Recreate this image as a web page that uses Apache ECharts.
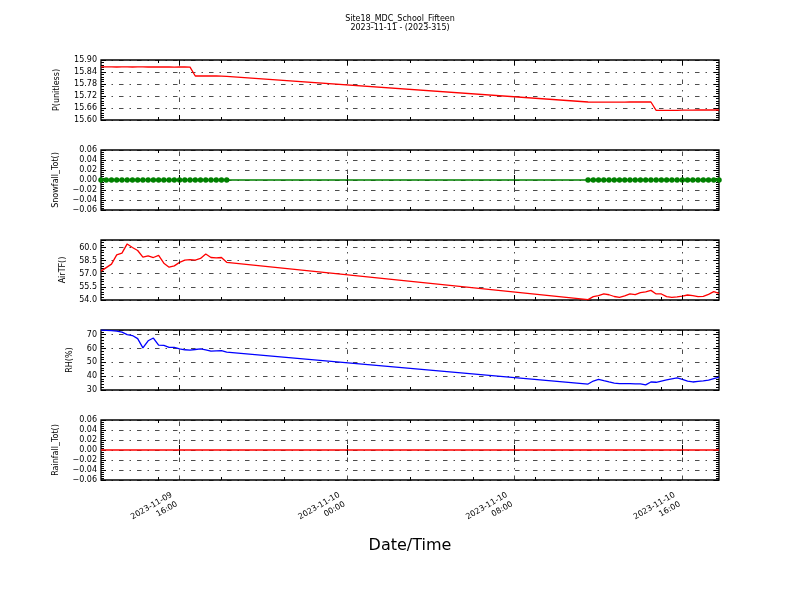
<!DOCTYPE html>
<html>
<head>
<meta charset="utf-8">
<script src="https://cdn.jsdelivr.net/npm/echarts@6/dist/echarts.min.js"></script>
<style>html,body{margin:0;padding:0;background:#fff}#c{width:800px;height:600px}</style>
</head>
<body>
<div id="c"></div>
<script>
// ---------------- data ----------------
const times1 = ['2023-11-09 12:15','2023-11-09 12:30','2023-11-09 12:45','2023-11-09 13:00','2023-11-09 13:15','2023-11-09 13:30','2023-11-09 13:45','2023-11-09 14:00','2023-11-09 14:15','2023-11-09 14:30','2023-11-09 14:45','2023-11-09 15:00','2023-11-09 15:15','2023-11-09 15:30','2023-11-09 15:45','2023-11-09 16:00','2023-11-09 16:15','2023-11-09 16:30','2023-11-09 16:45','2023-11-09 17:00','2023-11-09 17:15','2023-11-09 17:30','2023-11-09 17:45','2023-11-09 18:00','2023-11-09 18:15'];
const times2 = ['2023-11-10 11:30','2023-11-10 11:45','2023-11-10 12:00','2023-11-10 12:15','2023-11-10 12:30','2023-11-10 12:45','2023-11-10 13:00','2023-11-10 13:15','2023-11-10 13:30','2023-11-10 13:45','2023-11-10 14:00','2023-11-10 14:15','2023-11-10 14:30','2023-11-10 14:45','2023-11-10 15:00','2023-11-10 15:15','2023-11-10 15:30','2023-11-10 15:45','2023-11-10 16:00','2023-11-10 16:15','2023-11-10 16:30','2023-11-10 16:45','2023-11-10 17:00','2023-11-10 17:15','2023-11-10 17:30','2023-11-10 17:45'];

const pressure1 = [15.866,15.866,15.866,15.865,15.866,15.866,15.865,15.866,15.866,15.865,15.865,15.866,15.865,15.865,15.864,15.865,15.865,15.864,15.820,15.820,15.820,15.820,15.820,15.819,15.818];
const pressure2 = [15.690,15.689,15.689,15.689,15.689,15.689,15.689,15.689,15.690,15.690,15.690,15.690,15.690,15.648,15.648,15.648,15.648,15.648,15.649,15.649,15.649,15.650,15.650,15.650,15.650,15.650];

const snowfall1 = [0,0,0,0,0,0,0,0,0,0,0,0,0,0,0,0,0,0,0,0,0,0,0,0,0];
const snowfall2 = [0,0,0,0,0,0,0,0,0,0,0,0,0,0,0,0,0,0,0,0,0,0,0,0,0,0];

const airTF1 = [57.3,57.7,58.1,59.15,59.35,60.4,60.0,59.65,58.9,59.05,58.85,59.1,58.2,57.75,57.9,58.3,58.55,58.6,58.55,58.75,59.25,58.85,58.8,58.85,58.3];
const airTF2 = [54.05,54.38,54.5,54.69,54.6,54.4,54.31,54.46,54.69,54.61,54.84,54.92,55.1,54.69,54.69,54.38,54.31,54.35,54.45,54.57,54.5,54.38,54.42,54.65,54.95,54.77];

const rh1 = [73.3,73.2,73.0,72.6,71.9,70.1,69.4,67.2,60.5,65.6,67.6,62.5,62.3,60.8,60.8,59.7,59.1,58.9,59.3,59.7,59.0,58.1,58.3,58.4,57.4];
const rh2 = [34.3,36.5,37.7,36.7,35.8,35.0,34.6,34.6,34.6,34.5,34.4,33.7,35.8,35.6,36.5,37.3,38.1,38.7,37.6,36.4,35.8,36.3,36.6,37.1,38.3,39.4];

const rainfall1 = [0,0,0,0,0,0,0,0,0,0,0,0,0,0,0,0,0,0,0,0,0,0,0,0,0];
const rainfall2 = [0,0,0,0,0,0,0,0,0,0,0,0,0,0,0,0,0,0,0,0,0,0,0,0,0,0];

const xMin = '2023-11-09 12:15';
const xMax = '2023-11-10 17:45';
const xMajorTicks = ['2023-11-09 16:00','2023-11-10 00:00','2023-11-10 08:00','2023-11-10 16:00'];
const xMajorLabels = ['2023-11-09\n16:00','2023-11-10\n00:00','2023-11-10\n08:00','2023-11-10\n16:00'];
const xMinorTicks = ['2023-11-09 15:00','2023-11-09 18:00','2023-11-09 21:00','2023-11-10 03:00','2023-11-10 06:00','2023-11-10 09:00','2023-11-10 12:00','2023-11-10 15:00'];

const panelNames = ['P(unitless)','Snowfall_Tot()','AirTF()','RH(%)','Rainfall_Tot()'];
const yMins = [15.60, -0.06, 54.0, 30, -0.06];
const yMaxs = [15.90, 0.06, 60.85, 73.4, 0.06];
const yIntervals = [0.06, 0.02, 1.5, 10, 0.02];
const yDecimals = [2, 2, 1, 0, 2];
const title = 'Site18_MDC_School_Fifteen\n2023-11-11 - (2023-315)';
const xTitle = 'Date/Time';

// ---------------- layout / style ----------------
const FONT = 'DejaVu Sans';
const tops = [60, 150, 240, 330, 420];
const nameGaps = [40, 41, 34, 27, 41];
const dashDot = [4.5, 6, 1.5, 6];
const gridLine = {color: '#000', width: 0.7, type: dashDot};

const ms = s => echarts.time.parse(s).getTime();
const times = times1.concat(times2).map(ms);
function pairs(a, b) { const v = a.concat(b); return times.map((t, i) => [t, v[i]]); }

const majorMs = xMajorTicks.map(ms);
const minorMs = xMinorTicks.map(ms);
function xLabelFmt(val) {
  for (let i = 0; i < majorMs.length; i++) if (Math.abs(majorMs[i] - val) < 1000) return xMajorLabels[i];
  return '';
}
function yFmt(k) {
  return function (v) {
    const iv = yIntervals[k];
    const r = (v - yMins[k]) / iv;
    if (Math.abs(r - Math.round(r)) > 1e-6) return '';
    let s = Math.abs(v).toFixed(yDecimals[k]);
    if (v < -1e-9) s = '\u2212' + s;
    return s;
  };
}

const grids = [], xAxes = [], yAxes = [], series = [];
const seriesDefs = [
  {data: pairs(pressure1, pressure2), color: '#ff0000', symbol: false},
  {data: pairs(snowfall1, snowfall2), color: '#008000', symbol: true},
  {data: pairs(airTF1, airTF2), color: '#ff0000', symbol: false},
  {data: pairs(rh1, rh2), color: '#0000ff', symbol: false},
  {data: pairs(rainfall1, rainfall2), color: '#ff0000', symbol: false}
];

for (let k = 0; k < 5; k++) {
  grids.push({left: 101, right: 81, top: tops[k], height: 60, show: true, borderColor: '#000', borderWidth: 1.3, backgroundColor: 'transparent'});
  const baseX = {type: 'value', gridIndex: k, min: ms(xMin), max: ms(xMax), axisLine: {show: false}, splitLine: {show: false}, axisPointer: {show: false}};
  const isLast = k === 4;
  xAxes.push(Object.assign({}, baseX, {
    position: 'bottom',
    axisTick: {show: true, inside: true, length: 5, lineStyle: {color: '#000', width: 1}, customValues: majorMs},
    axisLabel: {show: isLast, customValues: majorMs, formatter: xLabelFmt, rotate: 30, margin: 16, padding: [0, 6, 0, 0],
      fontFamily: FONT, fontSize: 8, lineHeight: 10.5, color: '#000', hideOverlap: false},
    name: isLast ? xTitle : '', nameLocation: 'middle', nameGap: 58,
    nameTextStyle: {fontFamily: FONT, fontSize: 16, color: '#000'}
  }));
  xAxes.push(Object.assign({}, baseX, {
    position: 'top',
    axisTick: {show: true, inside: true, length: 5, lineStyle: {color: '#000', width: 1}, customValues: majorMs},
    axisLabel: {show: false}
  }));
  xAxes.push(Object.assign({}, baseX, {
    position: 'bottom',
    axisTick: {show: true, inside: true, length: 3, lineStyle: {color: '#000', width: 1}, customValues: minorMs},
    axisLabel: {show: false}
  }));
  xAxes.push(Object.assign({}, baseX, {
    position: 'top',
    axisTick: {show: true, inside: true, length: 3, lineStyle: {color: '#000', width: 1}, customValues: minorMs},
    axisLabel: {show: false}
  }));
  const baseY = {type: 'value', gridIndex: k, min: yMins[k], max: yMaxs[k], interval: yIntervals[k], axisLine: {show: false}, axisPointer: {show: false},
    axisTick: {show: true, inside: true, length: 5, lineStyle: {color: '#000', width: 1}},
    minorTick: {show: true, splitNumber: 5, length: 3, lineStyle: {color: '#000', width: 1}}};
  yAxes.push(Object.assign({}, baseY, {
    position: 'left',
    splitLine: {show: true, lineStyle: gridLine},
    axisLabel: {show: true, formatter: yFmt(k), margin: 4, fontFamily: FONT, fontSize: 8, color: '#000', showMinLabel: true, showMaxLabel: true},
    name: panelNames[k], nameLocation: 'middle', nameRotate: 90, nameGap: nameGaps[k],
    nameTextStyle: {fontFamily: FONT, fontSize: 8, color: '#000'}
  }));
  yAxes.push(Object.assign({}, baseY, {
    position: 'right',
    splitLine: {show: false},
    axisLabel: {show: false}
  }));
  const d = seriesDefs[k];
  series.push({
    type: 'line', xAxisIndex: k * 4, yAxisIndex: k * 2, data: d.data,
    showSymbol: d.symbol, showAllSymbol: true, symbol: 'circle', symbolSize: 5.5,
    itemStyle: {color: d.color, borderColor: d.color, borderWidth: 0},
    lineStyle: {color: d.color, width: 1.3}, color: d.color,
    animation: false, silent: true, z: 3,
    markLine: {silent: true, symbol: ['none', 'none'], label: {show: false}, animation: false,
      lineStyle: gridLine, emphasis: {disabled: true},
      data: majorMs.map(t => ({xAxis: t}))}
  });
}

const chart = echarts.init(document.getElementById('c'), null, {renderer: 'canvas'});
chart.setOption({
  animation: false,
  backgroundColor: '#fff',
  title: {text: title, left: 'center', top: 9, textStyle: {fontFamily: FONT, fontSize: 8, fontWeight: 'normal', color: '#000', lineHeight: 9.5}},
  grid: grids, xAxis: xAxes, yAxis: yAxes, series: series
});
</script>
</body>
</html>
